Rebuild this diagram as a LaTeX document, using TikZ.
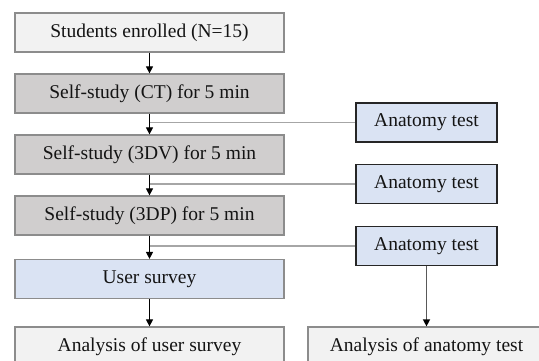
\documentclass[tikz,border=0pt]{standalone}
\usepackage{fontspec}
\setmainfont{Liberation Serif}
\usetikzlibrary{arrows.meta}
\definecolor{lightbox}{HTML}{F2F2F2}
\definecolor{graybox}{HTML}{D0CECE}
\definecolor{bluebox}{HTML}{DAE3F3}
\definecolor{edgegray}{HTML}{8C8C8C}
\definecolor{linkgray}{HTML}{A6A6A6}
\tikzset{
  base/.style={draw, line width=1.2pt, minimum width=269pt, minimum height=39pt, inner sep=0pt,
    font=\fontsize{19.5}{22}\selectfont, text=black!92},
  lightnode/.style={base, fill=lightbox, draw=edgegray},
  graynode/.style={base, fill=graybox, draw=edgegray},
  surveynode/.style={base, fill=bluebox, draw=edgegray},
  testnode/.style={base, fill=bluebox, draw=black!85, line width=1.5pt, minimum width=141pt, minimum height=39pt},
  flow/.style={draw=black, line width=1pt, -{Triangle[length=7pt,width=7pt]}},
  link/.style={draw=linkgray, line width=1.3pt},
  testflow/.style={draw=black!65, line width=1.3pt, -{Triangle[length=7pt,width=7pt,color=black,fill=black]}}
}
\begin{document}
\begin{tikzpicture}[x=1pt,y=-1pt]
\useasboundingbox (0,0) rectangle (539,360);
\clip (0,0) rectangle (539,360);
\fill[white] (0,0) rectangle (539,360);
\node[lightnode] (b1) at (149.5,32.5) {Students enrolled (N=15)};
\node[graynode] (b2) at (149.5,93.5) {Self-study (CT) for 5 min};
\node[graynode] (b3) at (149.5,154.5) {Self-study (3DV) for 5 min};
\node[graynode] (b4) at (149.5,215.5) {Self-study (3DP) for 5 min};
\node[surveynode] (b5) at (149.5,279) {User survey};
\node[lightnode] (b6) at (149.5,346.5) {Analysis of user survey};
\node[lightnode, minimum width=237pt] (b7) at (426.5,346.5) {Analysis of anatomy test};
\node[testnode] (a1) at (426.5,122.5) {Anatomy test};
\node[testnode] (a2) at (426.5,184) {Anatomy test};
\node[testnode] (a3) at (426.5,246) {Anatomy test};
\coordinate (j1) at (149.5,122.5);
\coordinate (j2) at (149.5,184);
\coordinate (j3) at (149.5,246);
\draw[link] (j1) -- (a1.west);
\draw[link] (j2) -- (a2.west);
\draw[link] (j3) -- (a3.west);
\draw[flow] (b1) -- (b2);
\draw[flow] (b2) -- (b3);
\draw[flow] (b3) -- (b4);
\draw[flow] (b4) -- (b5);
\draw[flow] (b5) -- (b6);
\draw[testflow] (a3.south) -- (a3.south |- b7.north);
\end{tikzpicture}
\end{document}
